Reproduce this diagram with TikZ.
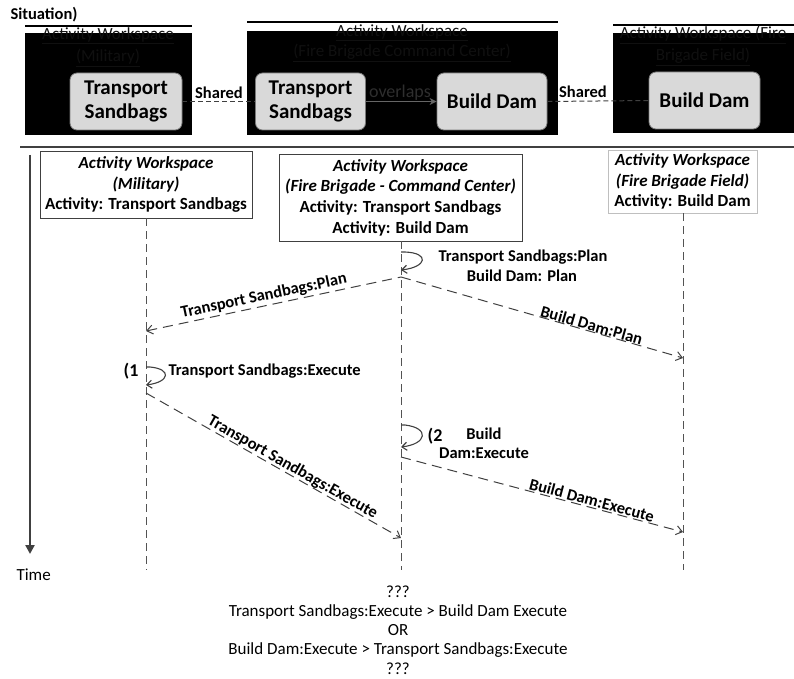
\documentclass[tikz,border=0pt]{standalone}
\usepackage{fontspec}
\setmainfont{Carlito}
\usetikzlibrary{arrows.meta}
\definecolor{ln}{HTML}{404040}
\definecolor{boxfill}{HTML}{D9D9D9}
\definecolor{hid}{HTML}{101010}
\begin{document}
\begin{tikzpicture}[x=1pt,y=-1pt,
  blackws/.style={fill=black},
  inbox/.style={draw=ln!70,fill=boxfill,rounded corners=7pt,line width=0.8pt,align=center,
     font=\fontsize{21}{23.5}\selectfont\bfseries,inner sep=0pt},
  hdr/.style={text=hid,font=\fontsize{17}{20}\selectfont,align=center},
  shr/.style={font=\fontsize{16.5}{18}\selectfont\bfseries},
  wsbox/.style={draw=ln,line width=0.8pt,align=center,font=\fontsize{17}{20.7}\selectfont,inner sep=0pt},
  life/.style={draw=ln!90,line width=0.9pt,dash pattern=on 8pt off 5pt},
  msg/.style={draw=ln,line width=1pt,dash pattern=on 10pt off 6pt,-{Straight Barb[length=6pt,width=9pt]}},
  selfarr/.style={draw=ln,line width=1.1pt,-{Straight Barb[length=5pt,width=8pt]}},
  lbl/.style={font=\fontsize{16.5}{19}\selectfont\bfseries},
  mlbl/.style={font=\fontsize{16.5}{19}\selectfont\bfseries,sloped,above}
]
\useasboundingbox (0,0) rectangle (794,679);

% ---------- top situation ----------
\node[anchor=west,font=\fontsize{16.5}{18}\selectfont\bfseries] (sit) at (7,15) {Situation)};

% workspace 1
\fill[blackws] (25,33) rectangle (192,135);
\draw[line width=2pt] (25,26) -- (192,26);
\node[hdr] (h1a) at (108,36) {\underline{Activity Workspace}};
\node[hdr] (h1b) at (108,58) {\underline{(Military)}};
% workspace 2
\fill[blackws] (247,31) rectangle (558,135);
\draw[line width=2pt] (247,22) -- (558,22);
\node[hdr] (h2a) at (402,33) {\underline{Activity Workspace}};
\node[hdr] (h2b) at (402,53) {\underline{(Fire Brigade Command Center)}};
% workspace 3
\fill[blackws] (613,33) rectangle (794,133);
\draw[line width=2pt] (613,25) -- (794,25);
\node[hdr] (h3a) at (703,35) {\underline{Activity Workspace (Fire}};
\node[hdr] (h3b) at (703,57) {\underline{Brigade Field)}};

\node[inbox,minimum width=112pt,minimum height=57pt] (ts1) at (126,101.5) {Transport\\Sandbags};
\node[inbox,minimum width=110pt,minimum height=57pt] (ts2) at (310.5,101.5) {Transport\\Sandbags};
\node[inbox,minimum width=110pt,minimum height=57pt] (bd2) at (492,101.5) {Build Dam};
\node[inbox,minimum width=111pt,minimum height=57pt] (bd3) at (704.5,100.5) {Build Dam};

\draw[ln,line width=1pt,dash pattern=on 5pt off 3pt] (ts1.east) -- (ts2.west);
\draw[ln,line width=1pt,dash pattern=on 5pt off 3pt] (bd2.east) -- (bd3.west);
\draw[ln!80,line width=1.3pt,-{Stealth[length=7pt,width=7pt]}] (ts2.east) -- (bd2.west);
\node[shr] (sh1) at (219,93) {Shared};
\node[shr] (sh2) at (583,92) {Shared};
\node[font=\fontsize{18}{20}\selectfont,text=black!82] (ovl) at (400,93) {overlaps};

% separator
\draw[ln,line width=2pt] (20,147) -- (794,147);

% ---------- sequence ----------
\coordinate (t0) at (30,155);
\coordinate (t1) at (30,554);
\draw[ln,line width=2.6pt,-{Triangle[length=9pt,width=9pt]}] (t0) -- (t1);
\node[anchor=west,font=\fontsize{17}{19}\selectfont] (time) at (13,575) {Time};

\node[wsbox,minimum width=212pt,minimum height=67pt] (A) at (146,184.5)
  {\textbf{\textit{Activity Workspace}}\\\textbf{\textit{(Military)}}\\\textbf{Activity: Transport Sandbags}};
\node[wsbox,minimum width=243pt,minimum height=87pt] (B) at (400.5,197.5)
  {\textbf{\textit{Activity Workspace}}\\\textbf{\textit{(Fire Brigade - Command Center)}}\\\textbf{Activity: Transport Sandbags}\\\textbf{Activity: Build Dam}};
\node[wsbox,draw=black!25,minimum width=149pt,minimum height=63pt] (C) at (682.5,181.5)
  {\textbf{\textit{Activity Workspace}}\\\textbf{\textit{(Fire Brigade Field)}}\\\textbf{Activity: Build Dam}};

\coordinate (Aend) at (146,570);
\coordinate (Bend) at (401,570);
\coordinate (Cend) at (683,570);
\draw[life] (A.south) -- (Aend);
\draw[life] (B.south -| Bend) -- (Bend);
\draw[life] (C.south -| Cend) -- (Cend);

% plan self-message on B
\coordinate (bs1) at (401,252);
\coordinate (be1) at (401,270);
\draw[selfarr] (bs1) -- (405,252) .. controls (430,253) and (427,267) .. (be1);
\node[lbl] (tsp) at (523,257) {Transport Sandbags:Plan};
\node[lbl] (bdp) at (522,276) {Build Dam: Plan};

% plan messages
\coordinate (bm1) at (401,277);
\coordinate (am1) at (146,331);
\coordinate (cm1) at (683,358);
\draw[msg,{Straight Barb[length=6pt,width=9pt]}-] (am1) -- node[mlbl,pos=0.47,inner sep=2pt] {Transport Sandbags:Plan} (bm1);
\draw[msg] (bm1) -- node[mlbl,pos=0.67,inner sep=0pt] {Build Dam:Plan} (cm1);

% execute self-message on A
\coordinate (as1) at (146,367);
\coordinate (ae1) at (146,385);
\draw[selfarr] (as1) -- (150,367) .. controls (172,369) and (170,382) .. (ae1);
\node[font=\fontsize{18}{20}\selectfont\bfseries] (one) at (131,371) {(1};
\node[lbl,anchor=west] (tse) at (165,371) {Transport Sandbags:Execute};

% execute message A -> B
\coordinate (am2) at (146,393);
\coordinate (bm2) at (401,538);
\draw[msg] (am2) -- node[mlbl,pos=0.56,inner sep=0pt] {Transport Sandbags:Execute} (bm2);

% execute self-message on B
\coordinate (bs2) at (401,425);
\coordinate (be2) at (401,447);
\draw[selfarr] (bs2) -- (405,425) .. controls (430,428) and (427,444) .. (be2);
\node[font=\fontsize{18}{20}\selectfont\bfseries] (two) at (435,436) {(2};
\node[lbl,align=center] (bde) at (484,443) {Build\\Dam:Execute};

% execute message B -> C
\coordinate (bm3) at (401,457);
\coordinate (cm3) at (683,532);
\draw[msg] (bm3) -- node[mlbl,pos=0.67,inner sep=1pt] {Build Dam:Execute} (cm3);

% bottom text
\node[align=center,font=\fontsize{17}{19.2}\selectfont] (q) at (398,630)
  {???\\Transport Sandbags:Execute > Build Dam Execute\\OR\\Build Dam:Execute > Transport Sandbags:Execute\\???};
\end{tikzpicture}
\end{document}
